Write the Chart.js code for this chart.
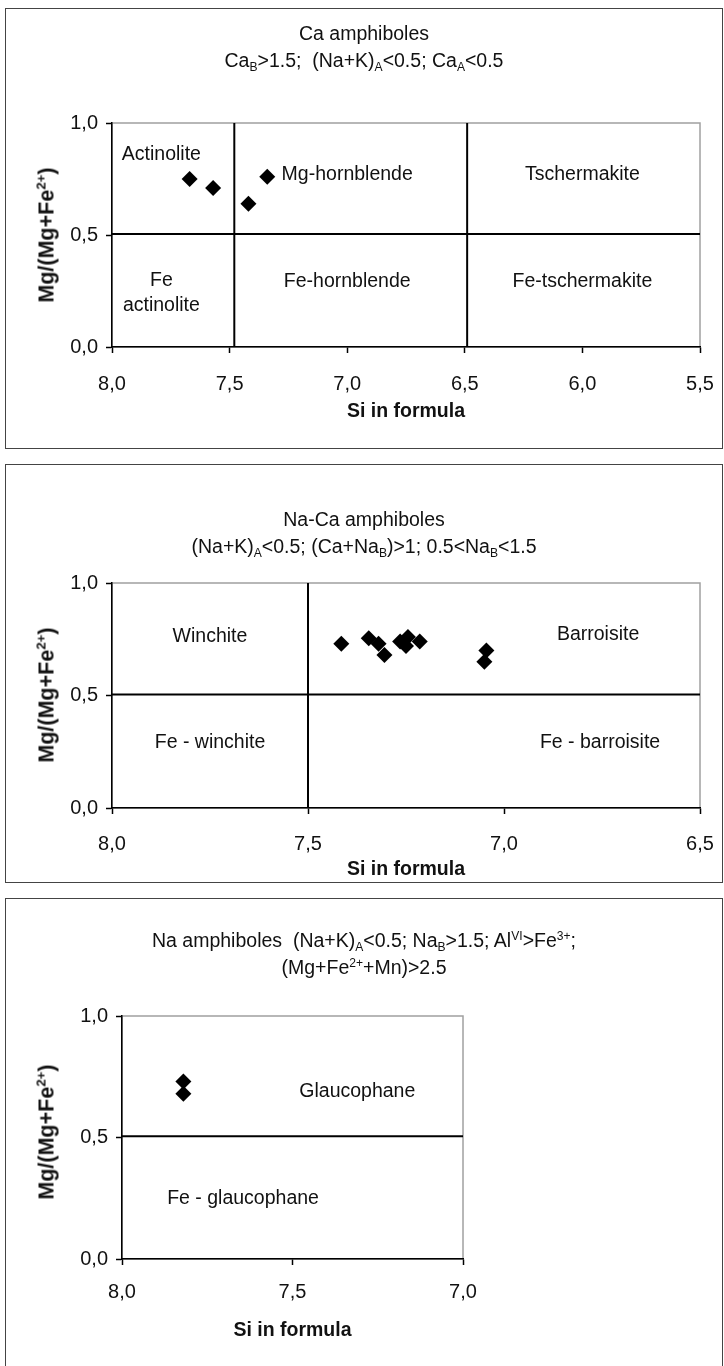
<!DOCTYPE html>
<html>
<head>
<meta charset="utf-8">
<script src="https://cdn.jsdelivr.net/npm/chart.js@4.4.1/dist/chart.umd.min.js"></script>
<style>
  html, body { margin: 0; padding: 0; background: #fff; overflow: hidden; }
  body { width: 724px; height: 1366px; position: relative; font-family: 'Liberation Sans', Arial, sans-serif; color: #111; }
  .panel { position: absolute; left: 5px; width: 716px; border: 1px solid #444; background: #fff; }
  .panel canvas { position: absolute; left: 0; top: 0; }
  .title { position: absolute; left: 0; right: 0; text-align: center; font-size: 19.5px; line-height: 27px; }
  .ytitle { position: absolute; transform: translate(-50%, -50%) rotate(-90deg); font-weight: bold; font-size: 21.5px; white-space: nowrap; }
  sub, sup { font-size: 0.62em; line-height: 0; position: relative; vertical-align: baseline; }
  sub { top: 0.35em; }
  sup { top: -0.6em; }
</style>
</head>
<body>

<div class="panel" style="top:8px;height:439px">
  <canvas id="c1" width="716" height="439"></canvas>
  <div class="title" style="top:11px">Ca amphiboles<br>Ca<sub>B</sub>&gt;1.5;&nbsp; (Na+K)<sub>A</sub>&lt;0.5; Ca<sub>A</sub>&lt;0.5</div>
  <div class="ytitle" style="left:41px;top:226px">Mg/(Mg+Fe<sup>2+</sup>)</div>
</div>

<div class="panel" style="top:464px;height:417px">
  <canvas id="c2" width="716" height="417"></canvas>
  <div class="title" style="top:41px">Na-Ca amphiboles<br>(Na+K)<sub>A</sub>&lt;0.5; (Ca+Na<sub>B</sub>)&gt;1; 0.5&lt;Na<sub>B</sub>&lt;1.5</div>
  <div class="ytitle" style="left:41px;top:230px">Mg/(Mg+Fe<sup>2+</sup>)</div>
</div>

<div class="panel" style="top:898px;height:480px">
  <canvas id="c3" width="716" height="467"></canvas>
  <div class="title" style="top:28px">Na amphiboles&nbsp; (Na+K)<sub>A</sub>&lt;0.5; Na<sub>B</sub>&gt;1.5; Al<sup>VI</sup>&gt;Fe<sup>3+</sup>;<br>(Mg+Fe<sup>2+</sup>+Mn)&gt;2.5</div>
  <div class="ytitle" style="left:41px;top:233px">Mg/(Mg+Fe<sup>2+</sup>)</div>
</div>

<script>
// Ca amphiboles
const caSi = [7.67, 7.57, 7.42, 7.34];
const caMg = [0.75, 0.71, 0.64, 0.76];
const caSiLimits = [7.48, 6.49];
const caFieldNames = ['Actinolite', 'Fe\nactinolite', 'Mg-hornblende', 'Fe-hornblende', 'Tschermakite', 'Fe-tschermakite'];
const caSiTicks = [8.0, 7.5, 7.0, 6.5, 6.0, 5.5];
const caSiLabels = ['8,0', '7,5', '7,0', '6,5', '6,0', '5,5'];

// Na-Ca amphiboles
const nacaSi = [7.415, 7.345, 7.32, 7.305, 7.265, 7.245, 7.25, 7.215, 7.045, 7.05];
const nacaMg = [0.73, 0.755, 0.73, 0.68, 0.74, 0.76, 0.72, 0.74, 0.70, 0.65];
const nacaSiLimits = [7.5];
const nacaFieldNames = ['Winchite', 'Fe - winchite', 'Barroisite', 'Fe - barroisite'];
const nacaSiTicks = [8.0, 7.5, 7.0, 6.5];
const nacaSiLabels = ['8,0', '7,5', '7,0', '6,5'];

// Na amphiboles
const naSi = [7.82, 7.82];
const naMg = [0.73, 0.68];
const naSiLimits = [];
const naFieldNames = ['Glaucophane', 'Fe - glaucophane'];
const naSiTicks = [8.0, 7.5, 7.0];
const naSiLabels = ['8,0', '7,5', '7,0'];

// Mg/(Mg+Fe2+) axis
const mgTicks = [0.0, 0.5, 1.0];
const mgLabels = ['0,0', '0,5', '1,0'];
const mgLimit = 0.505;

const FAMILY = "'Liberation Sans', Arial, sans-serif";
const TITLE_SIZE = 19.5;

// gray Excel plot-area frame (left/bottom get covered by the black axes)
const plotFrame = {
    id: 'plotFrame',
    beforeDraw(chart) {
        const a = chart.chartArea, ctx = chart.ctx;
        ctx.save();
        ctx.strokeStyle = '#a0a0a0';
        ctx.lineWidth = 1.5;
        ctx.strokeRect(a.left, a.top, a.right - a.left, a.bottom - a.top);
        ctx.restore();
    }
};

// field names, anchored in data coordinates
const fieldNames = {
    id: 'fieldNames',
    afterDatasetsDraw(chart, args, opts) {
        const ctx = chart.ctx, x = chart.scales.x, y = chart.scales.y;
        ctx.save();
        ctx.font = TITLE_SIZE + 'px ' + FAMILY;
        ctx.fillStyle = '#111';
        ctx.textAlign = 'center';
        ctx.textBaseline = 'middle';
        opts.names.forEach((name, i) => {
            const lines = name.split('\n');
            const px = x.getPixelForValue(opts.at[i][0]);
            const py = y.getPixelForValue(opts.at[i][1]);
            lines.forEach((ln, j) => ctx.fillText(ln, px, py + (j - (lines.length - 1) / 2) * 25));
        });
        ctx.restore();
    }
};

function boundary(points) {
    return { data: points, showLine: true, borderColor: '#000', borderWidth: 2, pointRadius: 0, fill: false };
}

function makeChart(id, o) {
    const canvas = document.getElementById(id);
    const W = canvas.width, H = canvas.height;
    const lh = TITLE_SIZE * 1.2;
    const xMin = Math.min(...o.ticks), xMax = Math.max(...o.ticks);

    let datasets = [];
    o.limits.forEach(s => datasets.push(boundary([{ x: s, y: 0 }, { x: s, y: 1 }])));
    datasets.push(boundary([{ x: xMax, y: mgLimit }, { x: xMin, y: mgLimit }]));
    datasets.push({
        data: o.si.map((s, i) => ({ x: s, y: o.mg[i] })),
        pointStyle: 'rectRot',
        pointRadius: 8,
        backgroundColor: '#000',
        borderColor: '#000',
        borderWidth: 0
    });

    new Chart(canvas, {
        type: 'scatter',
        data: { datasets: datasets },
        options: {
            responsive: false,
            animation: false,
            devicePixelRatio: 1,
            layout: {
                padding: { left: 0, top: o.area.top, right: W - o.area.right, bottom: H - (o.titleY + lh / 2) }
            },
            plugins: {
                legend: { display: false },
                tooltip: { enabled: false },
                fieldNames: { names: o.names, at: o.at }
            },
            scales: {
                x: {
                    type: 'linear',
                    min: xMin,
                    max: xMax,
                    reverse: true,
                    afterFit(s) {
                        s.height = o.titleY + lh / 2 - o.area.bottom;
                        s.paddingLeft = 0;
                        s.paddingRight = 0;
                    },
                    afterBuildTicks(s) { s.ticks = o.ticks.map(v => ({ value: v })); },
                    ticks: {
                        callback: v => o.labels[o.ticks.indexOf(v)],
                        font: { family: FAMILY, size: 20 },
                        color: '#111',
                        padding: o.tickPad,
                        maxRotation: 0,
                        autoSkip: false
                    },
                    grid: { drawOnChartArea: false, tickLength: 6, tickColor: '#000', tickWidth: 1.5 },
                    border: { color: '#000', width: 1.5 },
                    title: {
                        display: true,
                        text: 'Si in formula',
                        font: { family: FAMILY, size: TITLE_SIZE, weight: 'bold' },
                        color: '#111',
                        padding: 0
                    }
                },
                y: {
                    type: 'linear',
                    min: 0,
                    max: 1,
                    afterFit(s) {
                        s.width = o.area.left;
                        s.paddingTop = 0;
                        s.paddingBottom = 0;
                    },
                    afterBuildTicks(s) { s.ticks = mgTicks.map(v => ({ value: v })); },
                    ticks: {
                        callback: v => mgLabels[mgTicks.indexOf(v)],
                        font: { family: FAMILY, size: 20 },
                        color: '#111',
                        padding: 8
                    },
                    grid: { drawOnChartArea: false, tickLength: 6, tickColor: '#000', tickWidth: 1.5 },
                    border: { color: '#000', width: 1.5 }
                }
            }
        },
        plugins: [plotFrame, fieldNames]
    });
}

makeChart('c1', {
    si: caSi, mg: caMg, limits: caSiLimits,
    ticks: caSiTicks, labels: caSiLabels,
    names: caFieldNames,
    at: [[7.79, 0.86], [7.79, 0.24], [7.0, 0.77], [7.0, 0.29], [6.0, 0.77], [6.0, 0.29]],
    area: { left: 106, right: 694, top: 114, bottom: 338 },
    tickPad: 19,
    titleY: 403
});

makeChart('c2', {
    si: nacaSi, mg: nacaMg, limits: nacaSiLimits,
    ticks: nacaSiTicks, labels: nacaSiLabels,
    names: nacaFieldNames,
    at: [[7.75, 0.76], [7.75, 0.29], [6.76, 0.77], [6.755, 0.29]],
    area: { left: 106, right: 694, top: 118, bottom: 343 },
    tickPad: 18,
    titleY: 405
});

makeChart('c3', {
    si: naSi, mg: naMg, limits: naSiLimits,
    ticks: naSiTicks, labels: naSiLabels,
    names: naFieldNames,
    at: [[7.31, 0.69], [7.645, 0.25]],
    area: { left: 116, right: 457, top: 117, bottom: 360 },
    tickPad: 15,
    titleY: 432
});
</script>
</body>
</html>
